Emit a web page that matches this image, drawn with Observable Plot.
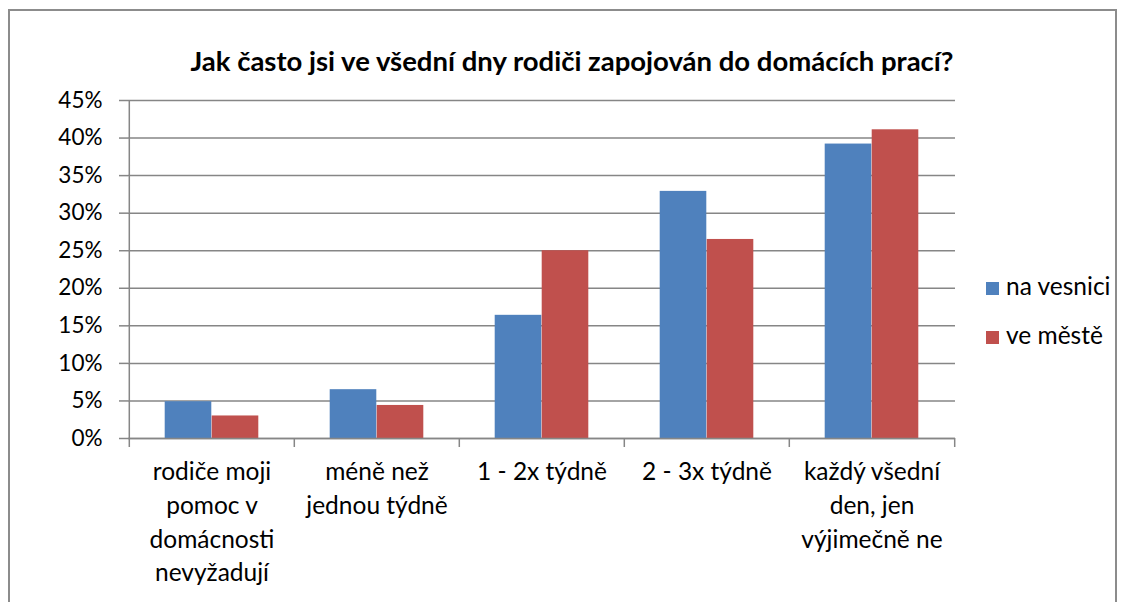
<!DOCTYPE html>
<html><head><meta charset="utf-8">
<script src="https://cdn.jsdelivr.net/npm/d3@7"></script>
<script src="https://cdn.jsdelivr.net/npm/@observablehq/plot@0.6"></script>
<style>
body{margin:0;background:#fff;font-family:Lato,"Open Sans",sans-serif;}
#wrap{position:relative;width:1127px;height:602px;overflow:hidden;background:#fff;}
#border{position:absolute;left:8px;top:9px;width:1109px;height:640px;border:2px solid #8c8c8c;box-sizing:border-box;}
#title{position:absolute;top:46px;left:0;width:1144px;text-align:center;font-weight:bold;font-size:27.5px;line-height:30px;color:#000;}
#chart{position:absolute;left:0;top:0;}
.leg{position:absolute;left:986px;font-size:24.5px;line-height:28px;color:#000;white-space:nowrap;}
.leg span{display:inline-block;width:13px;height:13px;margin-right:7px;vertical-align:0px;}
</style>
</head><body>
<div id="wrap">
  <div id="border"></div>
  <div id="chart"></div>
  <div id="title"></div>
  <div id="legend"></div>
</div>
<script>
const title = "Jak často jsi ve všední dny rodiči zapojován do domácích prací?";
const categories = ["rodiče moji pomoc v domácnosti nevyžadují", "méně než jednou týdně", "1 - 2x týdně", "2 - 3x týdně", "každý všední den, jen výjimečně ne"];
const tickLabels = ["rodiče moji\npomoc v\ndomácnosti\nnevyžadují", "méně než\njednou týdně", "1 - 2x týdně", "2 - 3x týdně", "každý všední\nden, jen\nvýjimečně ne"];
const series = ["na vesnici", "ve městě"];
const naVesnici = [0.049, 0.065, 0.164, 0.329, 0.392];
const veMeste = [0.030, 0.044, 0.250, 0.265, 0.411];
const yTicks = [0, 0.05, 0.10, 0.15, 0.20, 0.25, 0.30, 0.35, 0.40, 0.45];
const colors = ["#4F81BD", "#C0504D"];

const W = 1127, H = 602, ml = 128, mr = 172, mt = 100, mb = 164;
const bw = (W - ml - mr) / categories.length;
const barW = 47;
const grid = "#868686";
const rows = categories.map((c, i) => ({cat: c, label: tickLabels[i], v: naVesnici[i], m: veMeste[i]}));

document.getElementById("title").textContent = title;
const leg = document.getElementById("legend");
series.forEach((s, i) => {
  const d = document.createElement("div");
  d.className = "leg";
  d.style.top = (272 + i * 49) + "px";
  d.innerHTML = `<span style="background:${colors[i]}"></span>`;
  d.appendChild(document.createTextNode(s));
  leg.appendChild(d);
});

const chart = Plot.plot({
  width: W, height: H,
  marginLeft: ml, marginRight: mr, marginTop: mt, marginBottom: mb,
  style: {fontFamily: "Lato, 'Open Sans', sans-serif", background: "transparent"},
  x: {domain: categories, padding: 0, axis: null},
  y: {domain: [0, 0.45], axis: null},
  marks: [
    Plot.gridY(yTicks, {stroke: grid, strokeOpacity: 1, strokeWidth: 1.5}),
    Plot.barY(rows, {x: "cat", y: "v", fill: colors[0], insetLeft: bw / 2 - barW, insetRight: bw / 2}),
    Plot.barY(rows, {x: "cat", y: "m", fill: colors[1], insetLeft: bw / 2, insetRight: bw / 2 - barW}),
    Plot.axisY(yTicks, {tickSize: 9, tickPadding: 17, tickFormat: d3.format(".0%"), fontSize: 22.5, fill: "#000", stroke: grid, strokeWidth: 1.5, label: null}),
    Plot.ruleX([categories[0]], {x: d => d, dx: -bw / 2, stroke: grid, strokeWidth: 1.5}),
    Plot.ruleY([0], {stroke: grid, strokeWidth: 1.5}),
    Plot.ruleX(categories, {x: d => d, dx: -bw / 2, y1: () => 0, y2: () => 0, insetBottom: -9, stroke: grid, strokeWidth: 1.5}),
    Plot.ruleX([categories[categories.length - 1]], {x: d => d, dx: bw / 2, y1: () => 0, y2: () => 0, insetBottom: -9, stroke: grid, strokeWidth: 1.5}),
    Plot.text(rows, {x: "cat", y: () => 0, text: "label", dy: 18, lineAnchor: "top", lineHeight: 1.375, fontSize: 24.5, fill: "#000"})
  ]
});
document.getElementById("chart").appendChild(chart);
</script>
</body></html>
